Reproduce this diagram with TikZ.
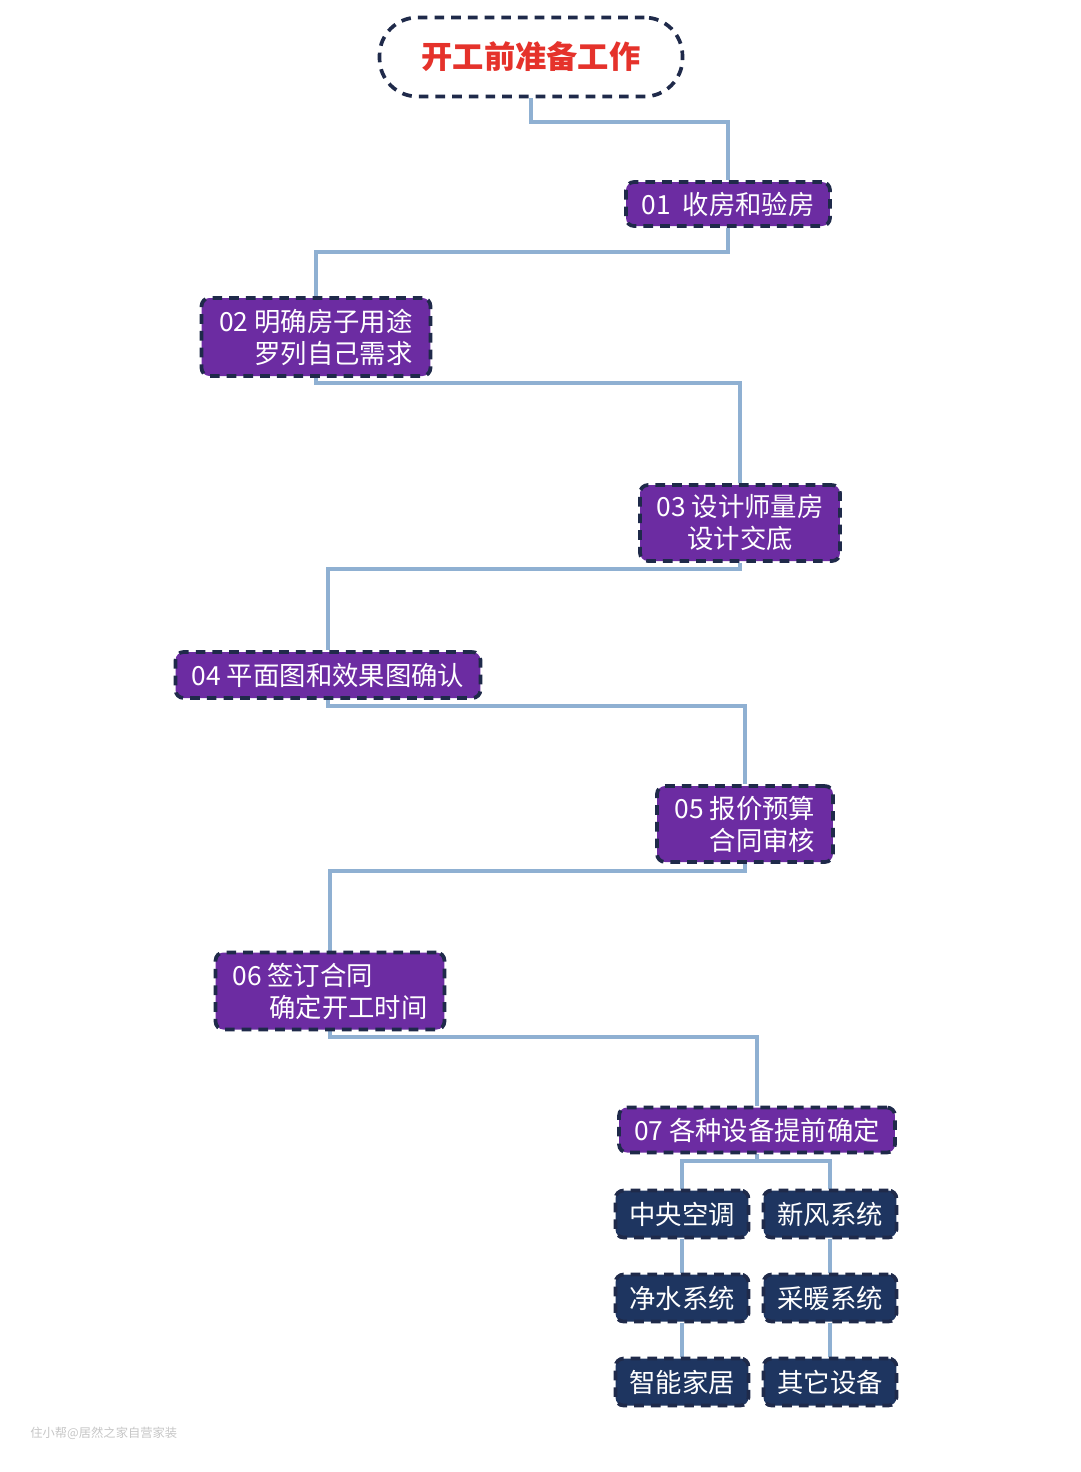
\documentclass[tikz,border=0pt]{standalone}
\usepackage{fontspec}
\setmainfont{Noto Sans CJK SC}
\usetikzlibrary{backgrounds}
\definecolor{stepfill}{HTML}{6C2CA2}
\definecolor{dashline}{HTML}{1F2A4A}
\definecolor{itemfill}{HTML}{1E3560}
\definecolor{linkline}{HTML}{8FB0D2}
\definecolor{titlered}{HTML}{E5322B}
\begin{document}
\begin{tikzpicture}[x=0.02cm,y=-0.02cm,link/.style={draw=linkline,line width=1.8pt}]
  \useasboundingbox (0,0) rectangle (1080,1472);
  % bends of the connectors
  \coordinate (j0) at (531,122);
  \coordinate (j1) at (728,252);
  \coordinate (j2) at (316,383);
  \coordinate (j3) at (740,569);
  \coordinate (j4) at (328,706);
  \coordinate (j5) at (745,871);
  \coordinate (j6) at (330,1037);
  \coordinate (fork) at (757,1161);
  \node[rounded corners=0.76cm,draw=dashline,line width=2.1pt,dash pattern=on 5.5pt off 4pt,
    fill=white,text=titlered,minimum width=6.06cm,minimum height=1.58cm,
    font=\fontsize{17.8}{20}\selectfont\bfseries] (start) at (531,57) {开工前准备工作};
  \begin{scope}[every node/.style={rounded corners=0.16cm,draw=dashline,line width=2.1pt,
      dash pattern=on 5.5pt off 4pt,fill=stepfill,text=white,inner sep=0pt,
      font=\fontsize{15}{18.2}\selectfont}]
    \node[minimum width=4.08cm,minimum height=0.88cm] (s1) at (728,204) {01\ \ 收房和验房};
    \node[minimum width=4.58cm,minimum height=1.56cm,align=right] (s2) at (316,337) {02 明确房子用途\\罗列自己需求};
    \node[minimum width=4.0cm,minimum height=1.52cm,align=center] (s3) at (740,523) {03 设计师量房\\设计交底};
    \node[minimum width=6.1cm,minimum height=0.92cm] (s4) at (328,675) {04 平面图和效果图确认};
    \node[minimum width=3.52cm,minimum height=1.52cm,align=right] (s5) at (745,824) {05 报价预算\\合同审核};
    \node[minimum width=4.58cm,minimum height=1.54cm,align=left] (s6) at (330,991) {06 签订合同\\\hspace{0.74cm}确定开工时间};
    \node[minimum width=5.52cm,minimum height=0.9cm] (s7) at (757,1130) {07 各种设备提前确定};
  \end{scope}
  \begin{scope}[every node/.style={rounded corners=0.16cm,draw=dashline,line width=2.1pt,
      dash pattern=on 5.5pt off 4pt,fill=itemfill,text=white,inner sep=0pt,
      minimum width=2.66cm,minimum height=0.94cm,font=\fontsize{15}{18}\selectfont}]
    \node (ac) at (682,1214) {中央空调};
    \node (fresh) at (830,1214) {新风系统};
    \node (water) at (682,1298) {净水系统};
    \node (heat) at (830,1298) {采暖系统};
    \node (smart) at (682,1382) {智能家居};
    \node (other) at (830,1382) {其它设备};
  \end{scope}
  \begin{pgfonlayer}{background}
    \draw[link] (start.south) |- (j0) -| (s1.north);
    \draw[link] (s1.south) |- (j1) -| (s2.north);
    \draw[link] (s2.south) |- (j2) -| (s3.north);
    \draw[link] (s3.south) |- (j3) -| (s4.north);
    \draw[link] (s4.south) |- (j4) -| (s5.north);
    \draw[link] (s5.south) |- (j5) -| (s6.north);
    \draw[link] (s6.south) |- (j6) -| (s7.north);
    \draw[link] (s7.south) -- (fork);
    \draw[link] (ac.north) |- (fork) -| (fresh.north);
    \draw[link] (ac.south) -- (water.north);
    \draw[link] (water.south) -- (smart.north);
    \draw[link] (fresh.south) -- (heat.north);
    \draw[link] (heat.south) -- (other.north);
  \end{pgfonlayer}
  \node[text=gray!45,font=\fontsize{7}{8}\selectfont,anchor=west,inner sep=0pt] (mark) at (30,1433) {住小帮@居然之家自营家装};
\end{tikzpicture}
\end{document}
